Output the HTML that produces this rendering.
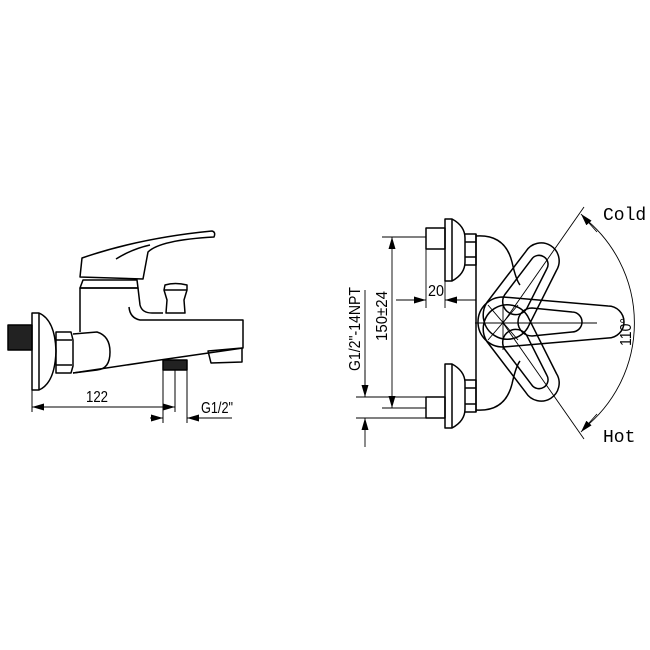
<!DOCTYPE html>
<html><head><meta charset="utf-8"><style>html,body{margin:0;padding:0;background:#fff}svg{display:block}</style></head>
<body>
<svg width="650" height="650" viewBox="0 0 650 650" xmlns="http://www.w3.org/2000/svg">
<defs>
<marker id="a" markerWidth="12" markerHeight="7" refX="12" refY="3.5" orient="auto" markerUnits="userSpaceOnUse"><path d="M0,0 L12,3.5 L0,7 Z" fill="#000"/></marker>
</defs>
<g fill="none" stroke="#000" stroke-width="1.5" stroke-linejoin="round">
<!-- LEFT VIEW -->
<rect x="8" y="325" width="24" height="25" fill="#222" stroke="#000"/>
<path d="M32,313 L39,313 Q55,320 56,351 Q55,383 39,390 L32,390 Z"/>
<line x1="39" y1="313" x2="39" y2="390"/>
<path d="M56,332 L71,332 L73,340 L73,366 L71,373 L56,373 Z"/>
<line x1="56" y1="340" x2="72" y2="340"/><line x1="56" y1="365" x2="72" y2="365"/>
<path d="M73,334 L97,332 Q110,336 110,352 Q110,369 97,370 L73,373"/>
<path d="M80,332 L80,288 L138,288 L140,305 Q142,313 152,313 L163,313"/>
<path d="M73,373 L160,360 L243,348 L243,320 L140,320 Q130,318 129,307"/>
<path d="M208,351 L242,348 L242,362 L211,363 Z"/>
<rect x="163" y="360" width="24" height="10" fill="#222"/>
<path d="M83,280 L137,280 L138,288 L80,288 Z"/>
<path d="M80,277 L82,258 Q140,238 212,231 Q216,232 214,237 Q160,240 148,252 L143,279 L80,277 Z"/>
<path d="M116,259 Q132,249 150,245"/>
<path d="M165,285 Q175,282 187,285 L187,290 L184,300 L185,313 L166,313 L167,300 L164,290 Z"/>
<line x1="164" y1="290" x2="187" y2="290"/>
<!-- dims left -->
<g stroke-width="1">
<line x1="32" y1="390" x2="32" y2="412"/>
<line x1="163" y1="370" x2="163" y2="423"/><line x1="175" y1="370" x2="175" y2="412"/><line x1="187" y1="370" x2="187" y2="423"/>
<line x1="40" y1="407" x2="32" y2="407" marker-end="url(#a)"/>
<line x1="40" y1="407" x2="175" y2="407" marker-end="url(#a)"/>
<line x1="150" y1="418" x2="163" y2="418" marker-end="url(#a)"/>
<line x1="232" y1="418" x2="187" y2="418" marker-end="url(#a)"/>
</g>
<!-- RIGHT VIEW -->
<rect x="426" y="228" width="19" height="21"/>
<path d="M445,219 L452,219 Q465,226 465,238 L465,262 Q465,274 452,281 L445,281 Z"/>
<line x1="452" y1="219" x2="452" y2="281"/>
<path d="M465,234 L476,234 L476,265 L465,265"/><line x1="465" y1="242" x2="476" y2="242"/><line x1="465" y1="257" x2="476" y2="257"/>
<rect x="426" y="397" width="19" height="21"/>
<path d="M445,364 L452,364 Q465,371 465,383 L465,409 Q465,421 452,428 L445,428 Z"/>
<line x1="452" y1="364" x2="452" y2="428"/>
<path d="M465,380 L476,380 L476,412 L465,412"/><line x1="465" y1="388" x2="476" y2="388"/><line x1="465" y1="404" x2="476" y2="404"/>
<line x1="476" y1="234" x2="476" y2="412"/>
<path d="M476,236 Q505,234 512,262 Q516,280 520,285"/>
<path d="M476,410 Q505,412 512,384 Q516,366 520,361"/>
<!-- handle -->
<g transform="translate(503,322)">
<path d="M0,-25 L105,-16 A16,16 0 0 1 105,16 L0,25 A25,25 0 0 1 0,-25 Z"/>
<path d="M29,-14 L69,-10 A10,10 0 0 1 69,10 L29,14 A14,14 0 0 1 29,-14 Z"/>
<g transform="rotate(-58)"><path d="M8,-24 L72,-18 A18,18 0 0 1 72,18 L8,24 A24,24 0 0 1 8,-24 Z"/><path d="M24,-13 L68,-9 A9,9 0 0 1 68,9 L24,13 A13,13 0 0 1 24,-13 Z"/></g>
<g transform="rotate(58)"><path d="M8,-24 L72,-18 A18,18 0 0 1 72,18 L8,24 A24,24 0 0 1 8,-24 Z"/><path d="M24,-13 L68,-9 A9,9 0 0 1 68,9 L24,13 A13,13 0 0 1 24,-13 Z"/></g>
</g>
<g stroke-width="0.9">
<line x1="475" y1="323" x2="597" y2="323"/><line x1="503" y1="298" x2="503" y2="350"/>
<line x1="488" y1="305" x2="518" y2="340"/><line x1="488" y1="340" x2="518" y2="305"/>
<line x1="503" y1="323" x2="584" y2="207"/><line x1="503" y1="323" x2="584" y2="439"/>
<path d="M583,217 A135,135 0 0 1 583,429" />
<line x1="597" y1="232" x2="581" y2="214" marker-end="url(#a)"/>
<line x1="597" y1="414" x2="581" y2="432" marker-end="url(#a)"/>
<!-- dims right -->
<line x1="382" y1="237" x2="426" y2="237"/><line x1="382" y1="408" x2="426" y2="408"/>
<line x1="392" y1="320" x2="392" y2="237" marker-end="url(#a)"/><line x1="392" y1="320" x2="392" y2="408" marker-end="url(#a)"/>
<line x1="356" y1="397" x2="426" y2="397"/><line x1="356" y1="418" x2="426" y2="418"/>
<line x1="365" y1="290" x2="365" y2="397"/><line x1="365" y1="370" x2="365" y2="397" marker-end="url(#a)"/>
<line x1="365" y1="447" x2="365" y2="418" marker-end="url(#a)"/>
<line x1="426" y1="249" x2="426" y2="308"/><line x1="445" y1="281" x2="445" y2="308"/>
<line x1="396" y1="300" x2="426" y2="300" marker-end="url(#a)"/>
<line x1="476" y1="300" x2="445" y2="300" marker-end="url(#a)"/>
</g>
</g>
<g font-family="'Liberation Sans Narrow','Liberation Sans',sans-serif" font-size="16" fill="#000">
<text x="86" y="402" textLength="22" lengthAdjust="spacingAndGlyphs">122</text>
<text x="201" y="413" textLength="32" lengthAdjust="spacingAndGlyphs">G1/2"</text>
<text x="428" y="296" textLength="16" lengthAdjust="spacingAndGlyphs">20</text>
<text x="603" y="220" font-family="'Liberation Mono',monospace" font-size="18">Cold</text>
<text x="603" y="442" font-family="'Liberation Mono',monospace" font-size="18">Hot</text>
<text transform="translate(631,346) rotate(-90)" textLength="28" lengthAdjust="spacingAndGlyphs">110°</text>
<text transform="translate(387,341) rotate(-90)" textLength="50" lengthAdjust="spacingAndGlyphs">150±24</text>
<text transform="translate(360,371) rotate(-90)" textLength="84" lengthAdjust="spacingAndGlyphs">G1/2"-14NPT</text>
</g>
</svg>
</body></html>
